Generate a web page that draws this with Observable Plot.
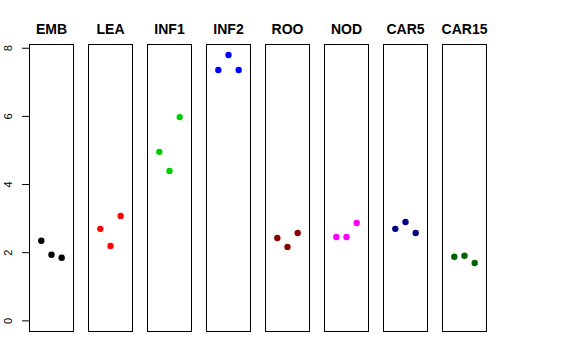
<!DOCTYPE html>
<html>
<head>
<meta charset="utf-8">
<script src="https://cdn.jsdelivr.net/npm/d3@7"></script>
<script src="https://cdn.jsdelivr.net/npm/@observablehq/plot@0.6"></script>
<style>
  html, body { margin: 0; padding: 0; background: #fff; }
  svg { display: block; }
</style>
</head>
<body>
<div id="chart"></div>
<script>
const categories = ["EMB", "LEA", "INF1", "INF2", "ROO", "NOD", "CAR5", "CAR15"];
const colors = ["#000000", "#FF0000", "#00CD00", "#0000FF", "#8B0000", "#FF00FF", "#000080", "#006400"];
const values = [
  [2.35, 1.94, 1.85],
  [2.70, 2.20, 3.08],
  [4.96, 4.40, 5.98],
  [7.36, 7.80, 7.36],
  [2.43, 2.17, 2.58],
  [2.46, 2.46, 2.87],
  [2.70, 2.90, 2.58],
  [1.88, 1.91, 1.70]
];
const yTicks = [0, 2, 4, 6, 8];

const rows = [];
categories.forEach((c, i) => {
  values[i].forEach((v, j) => rows.push({cat: c, rep: j + 1, value: v, color: colors[i]}));
});

const font = "'Liberation Sans', Arial, Helvetica, sans-serif";

const chart = Plot.plot({
  width: 576,
  height: 360,
  marginLeft: 29,
  marginRight: 90,
  marginTop: 44,
  marginBottom: 29,
  style: {fontFamily: font, background: "#fff"},
  fx: {domain: categories, paddingInner: 15 / 59, paddingOuter: 0, axis: null},
  x: {domain: [-0.16, 4.16], axis: null},
  y: {domain: [-0.312, 8.11], axis: null},
  marks: [
    Plot.frame({stroke: "#000", strokeWidth: 1}),
    Plot.axisY({ticks: yTicks, tickSize: 7, tickFormat: () => "", label: null, stroke: "#000", facet: "exclude", fx: () => categories[0]}),
    Plot.text(yTicks, {
      y: d => d, fx: () => categories[0], text: d => String(d),
      frameAnchor: "left", dx: -21, rotate: -90, fontSize: 11, fill: "#000", textAnchor: "middle"
    }),
    Plot.text(categories, {
      fx: d => d, text: d => d, frameAnchor: "top", lineAnchor: "middle", dy: -15,
      fontSize: 14, fontWeight: "bold", fill: "#000"
    }),
    Plot.dot(rows, {fx: "cat", x: "rep", y: "value", r: 3.2, fill: "color", stroke: "none"})
  ]
});
document.getElementById("chart").appendChild(chart);
</script>
</body>
</html>
